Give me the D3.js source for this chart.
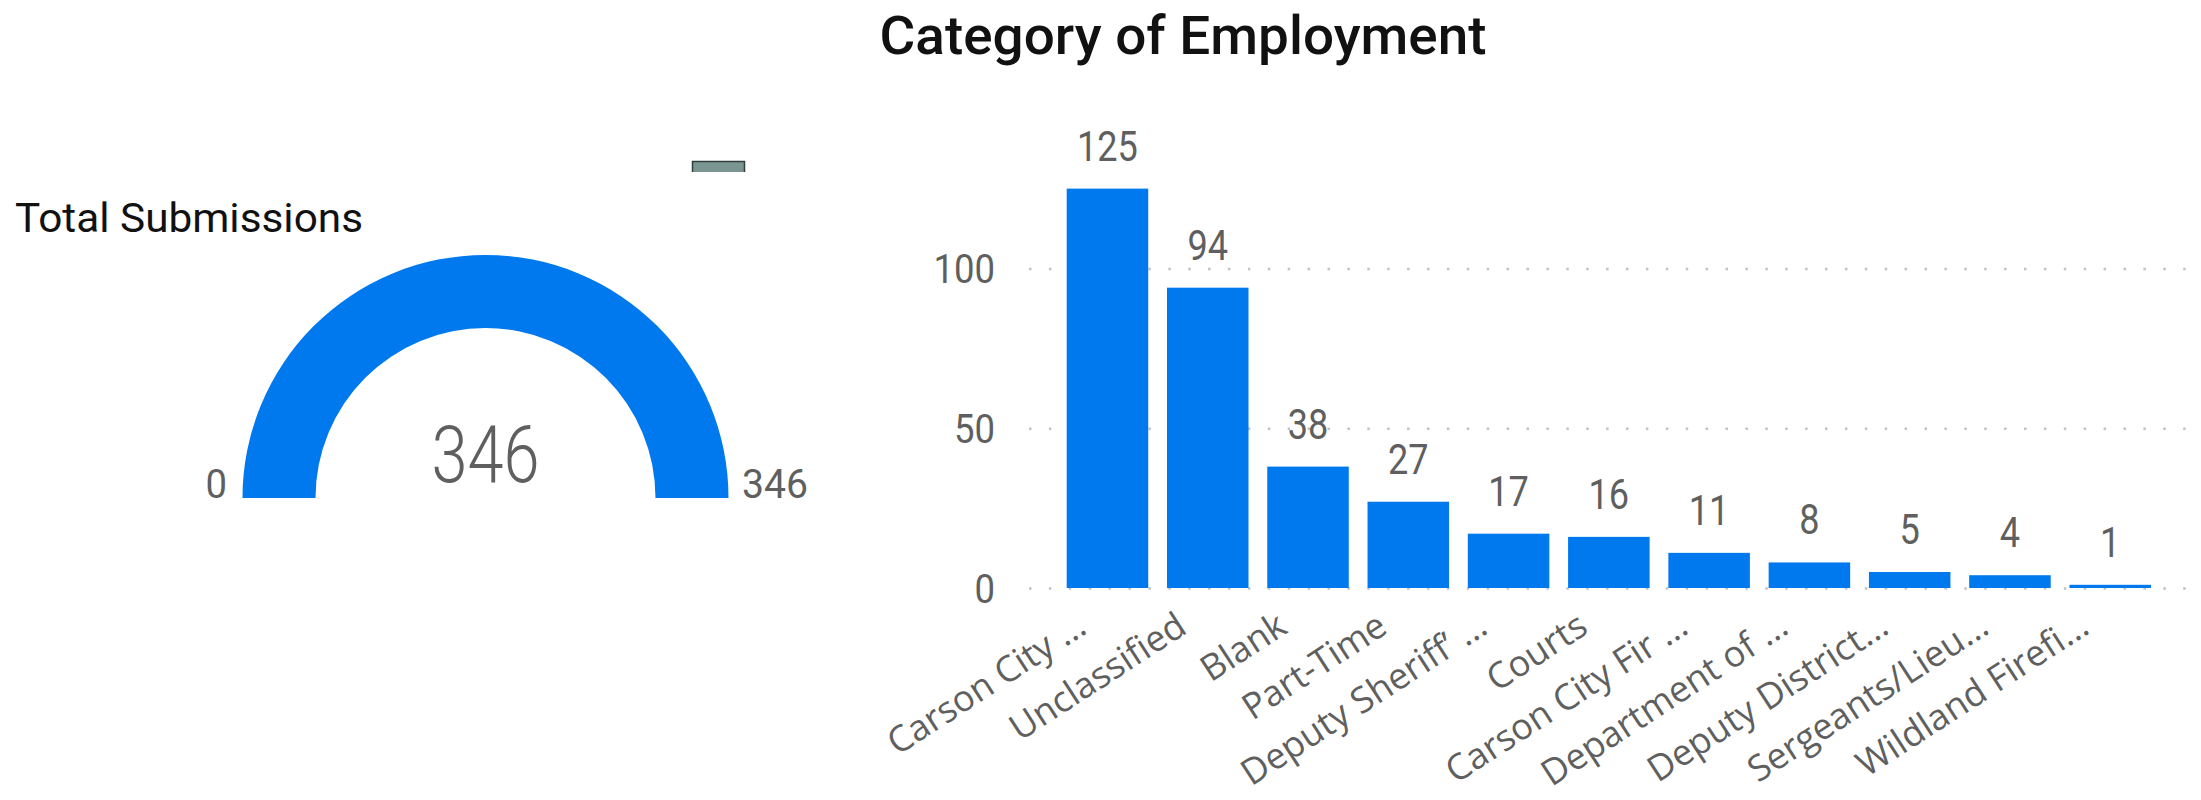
<!DOCTYPE html>
<html>
<head>
<meta charset="utf-8">
<script src="https://cdn.jsdelivr.net/npm/d3@7"></script>
<style>
  html, body { margin: 0; padding: 0; background: #ffffff; }
  svg { display: block; }
</style>
</head>
<body>
<svg id="chart" width="2201" height="800"></svg>
<script>
// ---- data ----
const categories = [
  "Carson City …", "Unclassified", "Blank", "Part-Time", "Deputy Sheriff’ …",
  "Courts", "Carson City Fir …", "Department of …", "Deputy District…",
  "Sergeants/Lieu…", "Wildland Firefi…"
];
const counts = [125, 94, 38, 27, 17, 16, 11, 8, 5, 4, 1];
const yTicks = [0, 50, 100];

const gaugeTitle = "Total Submissions";
const gaugeValue = 346;
const gaugeMin = 0;
const gaugeMax = 346;

const chartTitle = "Category of Employment";

// ---- styles ----
const BLUE = "#0078ee";
const GREY = "#5f5f5f";
const NUM_FONT = "Roboto, 'DejaVu Sans', sans-serif";
const LABEL_FONT = "'Open Sans', 'Noto Sans', sans-serif";

const svg = d3.select("#chart");
svg.append("rect").attr("width", 2201).attr("height", 800).attr("fill", "#ffffff");

// ---- titles ----
svg.append("text")
  .attr("x", 879.5).attr("y", 54)
  .attr("font-family", NUM_FONT).attr("font-weight", 500).attr("font-size", 54)
  .attr("fill", "#111").attr("textLength", 607).attr("lengthAdjust", "spacingAndGlyphs")
  .text(chartTitle);

svg.append("text")
  .attr("x", 15).attr("y", 232)
  .attr("font-family", NUM_FONT).attr("font-weight", 400).attr("font-size", 41)
  .attr("fill", "#111").attr("textLength", 348).attr("lengthAdjust", "spacingAndGlyphs")
  .text(gaugeTitle);

// small visual header marker
svg.append("rect").attr("x", 692).attr("y", 161).attr("width", 53).attr("height", 11)
  .attr("fill", "#7b9692");
svg.append("path").attr("d", "M692.5,172V161.5H744.5V172")
  .attr("fill", "none").attr("stroke", "#2f3d3b").attr("stroke-width", 1.5);

// ---- gauge ----
const gcx = 485.5, gcy = 498;
const angle = d3.scaleLinear().domain([gaugeMin, gaugeMax]).range([-Math.PI / 2, Math.PI / 2]);
const arc = d3.arc().innerRadius(170).outerRadius(243);

const gauge = svg.append("g").attr("transform", `translate(${gcx},${gcy})`);
gauge.append("path")
  .attr("d", arc({ startAngle: angle(gaugeMin), endAngle: angle(gaugeValue) }))
  .attr("fill", BLUE);

const digitW = (s, w) => String(s).length * w;

gauge.append("text")
  .attr("x", 0).attr("y", -16)
  .attr("text-anchor", "middle")
  .attr("font-family", NUM_FONT).attr("font-weight", 300).attr("font-size", 80)
  .attr("fill", GREY)
  .attr("textLength", digitW(gaugeValue, 36)).attr("lengthAdjust", "spacingAndGlyphs")
  .text(gaugeValue);

gauge.append("text")
  .attr("x", -258.5).attr("y", 0)
  .attr("text-anchor", "end")
  .attr("font-family", NUM_FONT).attr("font-size", 40)
  .attr("fill", GREY)
  .attr("textLength", digitW(gaugeMin, 21.5)).attr("lengthAdjust", "spacingAndGlyphs")
  .text(gaugeMin);

gauge.append("text")
  .attr("x", 256.5).attr("y", 0)
  .attr("text-anchor", "start")
  .attr("font-family", NUM_FONT).attr("font-size", 40)
  .attr("fill", GREY)
  .attr("textLength", digitW(gaugeMax, 22)).attr("lengthAdjust", "spacingAndGlyphs")
  .text(gaugeMax);

// ---- bar chart ----
const gridLeft = 1029, gridRight = 2190;
const x = d3.scaleBand().domain(categories).range([1066.7, 2151]).paddingInner(0.187).paddingOuter(0);
const y = d3.scaleLinear().domain([0, 100]).range([588, 268.5]);

// y axis with dotted gridlines
const yAxis = d3.axisLeft(y).tickValues(yTicks).tickSize(-(gridRight - gridLeft)).tickPadding(34);
const yg = svg.append("g").attr("transform", `translate(${gridLeft},0)`).call(yAxis);
yg.select(".domain").remove();
yg.selectAll(".tick line")
  .attr("stroke", "#c2c2c2").attr("stroke-width", 2.5)
  .attr("stroke-dasharray", "2.5 17.4");
yg.selectAll(".tick text")
  .attr("font-family", NUM_FONT).attr("font-size", 40).attr("fill", GREY)
  .attr("dy", "0.35em")
  .attr("textLength", d => digitW(d, 20.5)).attr("lengthAdjust", "spacingAndGlyphs");

// bars
svg.append("g").selectAll("rect")
  .data(categories)
  .join("rect")
  .attr("x", c => x(c))
  .attr("width", x.bandwidth())
  .attr("y", (c, i) => y(counts[i]))
  .attr("height", (c, i) => y(0) - y(counts[i]))
  .attr("fill", BLUE);

// value labels
svg.append("g").selectAll("text")
  .data(categories)
  .join("text")
  .attr("x", c => x(c) + x.bandwidth() / 2)
  .attr("y", (c, i) => y(counts[i]) - 28)
  .attr("text-anchor", "middle")
  .attr("font-family", NUM_FONT).attr("font-size", 42).attr("fill", GREY)
  .attr("textLength", (c, i) => digitW(counts[i], 20.3)).attr("lengthAdjust", "spacingAndGlyphs")
  .text((c, i) => counts[i]);

// x axis with rotated category labels
const xAxis = d3.axisBottom(x).tickSize(0).tickPadding(0);
const xg = svg.append("g").attr("transform", `translate(0,${y(0)})`).call(xAxis);
xg.select(".domain").remove();
xg.selectAll(".tick text")
  .attr("y", 0).attr("dy", 0)
  .attr("text-anchor", "end")
  .attr("transform", "translate(-19,44) rotate(-33)")
  .attr("font-family", LABEL_FONT).attr("font-size", 36).attr("fill", GREY);
</script>
</body>
</html>
